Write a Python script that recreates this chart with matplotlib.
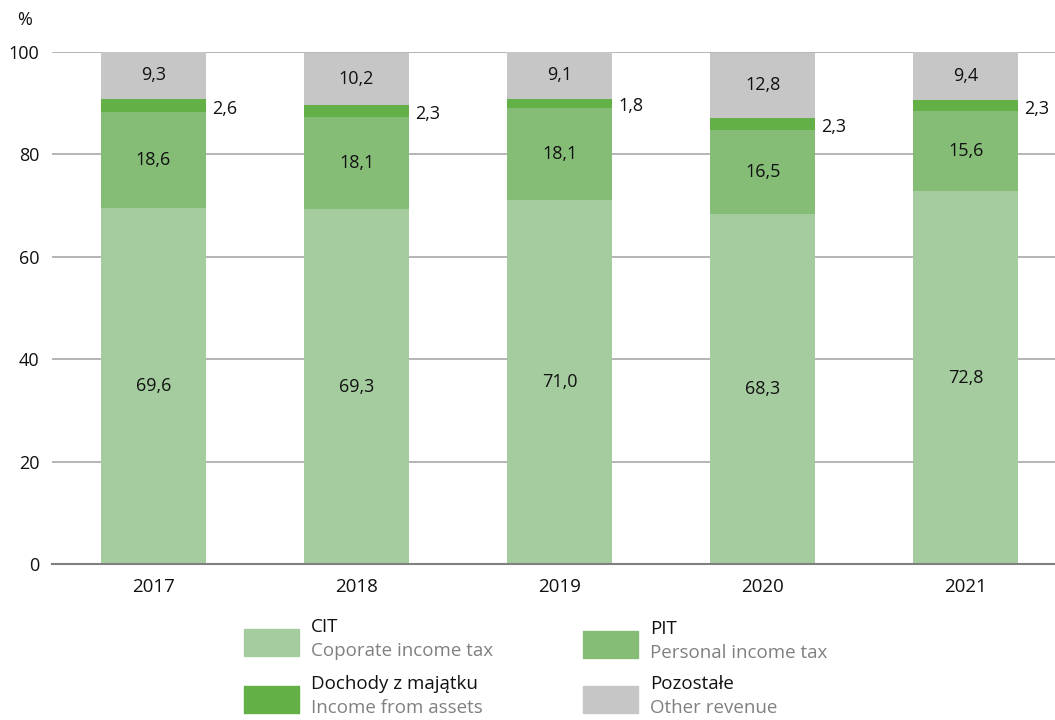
import matplotlib
matplotlib.use("Agg")
import matplotlib.pyplot as plt
from matplotlib.patches import Rectangle
import numpy as np

plt.rcParams['font.family'] = ['Open Sans', 'DejaVu Sans']

years = ["2017", "2018", "2019", "2020", "2021"]
cit = [69.6, 69.3, 71.0, 68.3, 72.8]
pit = [18.6, 18.1, 18.1, 16.5, 15.6]
assets = [2.6, 2.3, 1.8, 2.3, 2.3]
other = [9.3, 10.2, 9.1, 12.8, 9.4]
yticks = [0, 20, 40, 60, 80, 100]

series_names = [("CIT", "Coporate income tax"), ("PIT", "Personal income tax"),
                ("Dochody z majątku", "Income from assets"), ("Pozostałe", "Other revenue")]
colors = ["#a5cc9f", "#85bd77", "#62b046", "#c6c6c6"]

fig = plt.figure(figsize=(10.55, 7.2), dpi=100)
ax = fig.add_axes([52/1055, 1-564/720, 1-52/1055, (564-52)/720])

x = np.arange(len(years))
w = 0.52
data = [cit, pit, assets, other]
bottom = np.zeros(len(years))
for vals, col in zip(data, colors):
    ax.bar(x, vals, w, bottom=bottom, color=col, zorder=2, linewidth=0)
    bottom = bottom + np.array(vals)

fmt = lambda v: f"{v:.1f}".replace(".", ",")
bottom = np.zeros(len(years))
for si, vals in enumerate(data):
    for i, v in enumerate(vals):
        center = bottom[i] + v/2
        if si == 2:
            ax.text(x[i] + w/2 + 0.03, center - 0.6, fmt(v), ha="left", va="center", fontsize=13, color="#111111", zorder=3)
        else:
            ax.text(x[i], center, fmt(v), ha="center", va="center", fontsize=13, color="#111111", zorder=3)
    bottom = bottom + np.array(vals)

ax.set_ylim(0, 100)
ax.set_xlim(-0.5, 4.44)
ax.set_yticks(yticks)
ax.set_yticklabels([str(t) for t in yticks], fontsize=13, color="#111111")
ax.set_xticks(x)
ax.set_xticklabels(years, fontsize=13.5, color="#111111")
ax.tick_params(axis="both", length=0)
ax.tick_params(axis="y", pad=9)
ax.tick_params(axis="x", pad=10)
ax.yaxis.grid(True, color="#a8a8a8", linewidth=1.2, zorder=0)
ax.set_axisbelow(True)
for s in ["top", "right", "left"]:
    ax.spines[s].set_visible(False)
ax.spines["bottom"].set_color("#808080")
ax.spines["bottom"].set_linewidth(1.5)
ax.spines["bottom"].set_zorder(3)

fig.text(17/1055, 1-20/720, "%", fontsize=13, color="#111111", ha="left", va="center")

# legend
legend_pos = [(244, 629), (583, 631), (244, 686), (583, 686)]
for (name, sub), col, (px, py) in zip(series_names, colors, legend_pos):
    fig.patches.append(Rectangle((px/1055, 1-(py+27)/720), 55/1055, 27/720,
                                 transform=fig.transFigure, color=col, figure=fig))
    fig.text((px+67)/1055, 1-(py-2)/720, name, fontsize=13.5, color="#111111", ha="left", va="center")
    fig.text((px+67)/1055, 1-(py+22)/720, sub, fontsize=13.5, color="#808080", ha="left", va="center")

fig.savefig("out.png", dpi=100)
